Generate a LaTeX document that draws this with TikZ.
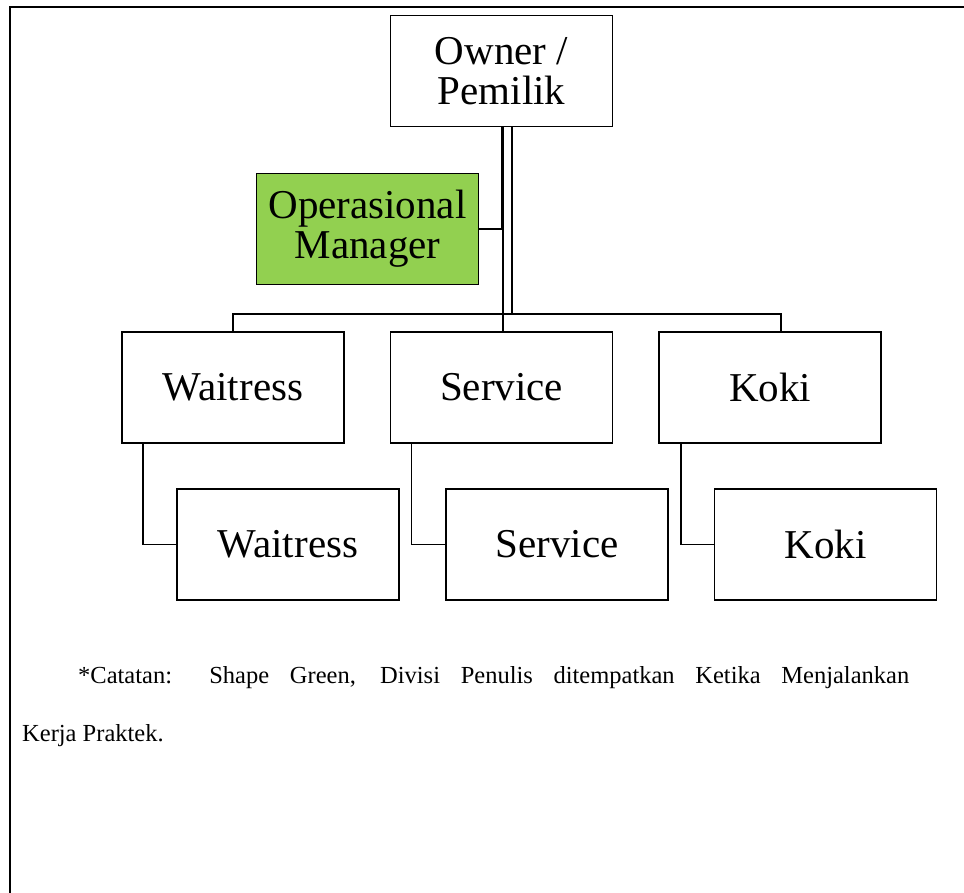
\documentclass[tikz,border=0pt]{standalone}
\usepackage{fontspec}
\setmainfont{Liberation Serif}
\usepackage{xcolor}
\usepackage{tikz}
\usetikzlibrary{calc}
\usetikzlibrary{positioning}
\definecolor{shapegreen}{RGB}{146,208,80}
\tikzset{>=latex}
\tikzstyle{post} = [rectangle, draw = black, line width = 1.6pt, fill = white, minimum width = 222pt, minimum height = 111pt, inner sep = 0, align = center, font = \fontsize{41}{40}\selectfont]
\tikzstyle{link} = [-, line width = 1.5pt]

\begin{document}
\begin{tikzpicture}[x = 1pt, y = -1pt]
\useasboundingbox (0, 0) rectangle (964, 893);
\draw [line width = 2.2pt] (10, 893) -- (10, 7) -- (964, 7);
\node [post] (O) at (501.5, 71) {Owner /\\Pemilik};
\node [post, fill = shapegreen] (OM) at (367.5, 229) {Operasional\\Manager};
\node [post] (W1) at (233, 387.5) {Waitress};
\node [post] (S1) at (501.5, 387.5) {Service};
\node [post] (K1) at (770, 387.5) {Koki};
\node [post] (W2) at (288, 544.5) {Waitress};
\node [post] (S2) at (557, 544.5) {Service};
\node [post] (K2) at (825.5, 544.5) {Koki};
\draw [link] ([xshift = 1.5pt]O.south) -- ([xshift = 1.5pt]S1.north);
\draw [link] ([xshift = 0.5pt]O.south) |- (OM.east);
\draw [link] ([xshift = 10.5pt]O.south) -- ++(0, 188);
\draw [link] (W1.north) -- ++(0, -17) -| ([xshift = 11pt]K1.north);
\draw [link] ([xshift = 22pt]W1.south west) |- (W2.west);
\draw [link] ([xshift = 22pt]S1.south west) |- (S2.west);
\draw [link] ([xshift = 23pt]K1.south west) |- (K2.west);
\node [anchor = base west, inner sep = 0] (note) at (22, 683) {\parbox[t]{887pt}{\fontsize{24.5}{58}\selectfont\parindent=0pt\hspace*{56pt}*Catatan: Shape Green, Divisi Penulis ditempatkan Ketika Menjalankan\linebreak Kerja Praktek.}};
\end{tikzpicture}
\end{document}
